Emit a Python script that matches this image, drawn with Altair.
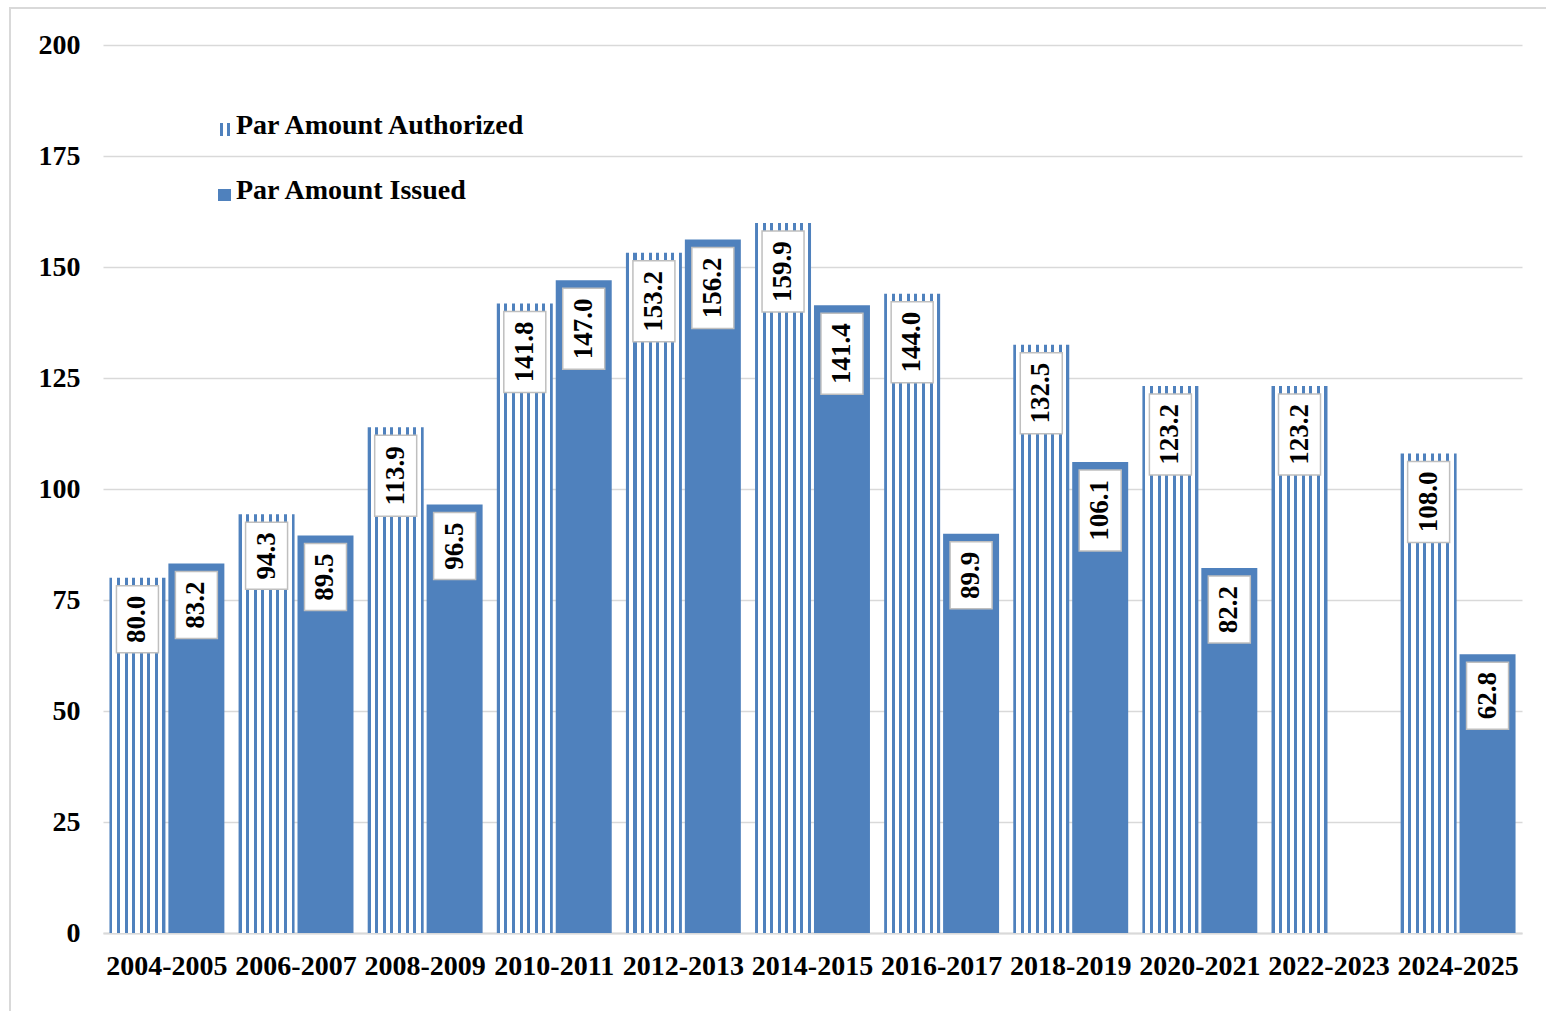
import altair as alt
import pandas as pd

periods = ["2004-2005", "2006-2007", "2008-2009", "2010-2011", "2012-2013", "2014-2015",
           "2016-2017", "2018-2019", "2020-2021", "2022-2023", "2024-2025"]
authorized = [80.0, 94.3, 113.9, 141.8, 153.2, 159.9, 144.0, 132.5, 123.2, 123.2, 108.0]
issued = [83.2, 89.5, 96.5, 147.0, 156.2, 141.4, 89.9, 106.1, 82.2, None, 62.8]
series_names = ["Par Amount Authorized", "Par Amount Issued"]
y_ticks = [0, 25, 50, 75, 100, 125, 150, 175, 200]

rows = []
for p, a, i in zip(periods, authorized, issued):
    rows.append({"period": p, "series": series_names[0], "value": a})
    if i is not None:
        rows.append({"period": p, "series": series_names[1], "value": i})
df = pd.DataFrame(rows)
legend_df = pd.DataFrame({"series": series_names})
frame_df = pd.DataFrame({"k": [0]})

BLUE = "#4F81BD"
FONT = "Liberation Serif"
GRID = "#D9D9D9"
FS = 28


def stripe_gradient(n, frac):
    p = 1.0 / (n + frac)
    stops = []
    for k in range(n + 1):
        a = k * p
        b = min(1.0, (k + frac) * p)
        stops.append(alt.GradientStop(color=BLUE, offset=a))
        stops.append(alt.GradientStop(color=BLUE, offset=b))
        if k < n:
            stops.append(alt.GradientStop(color="white", offset=b))
            stops.append(alt.GradientStop(color="white", offset=(k + 1) * p))
    return alt.LinearGradient(gradient="linear", stops=stops, x1=0, x2=1, y1=0, y2=0)


x_enc = alt.X(
    "period:N", sort=periods,
    scale=alt.Scale(domain=periods, paddingInner=0.11, paddingOuter=0.05),
    axis=alt.Axis(title=None, labelAngle=0, labelFont=FONT, labelFontSize=FS,
                  labelFontWeight="bold", labelColor="black", labelPadding=19,
                  ticks=False, domain=True, domainColor=GRID, domainWidth=2,
                  grid=False, labelOverlap=False, labelLimit=0),
)
xo_enc = alt.XOffset("series:N", scale=alt.Scale(domain=series_names, paddingInner=0.05))
y_enc = alt.Y(
    "value:Q", scale=alt.Scale(domain=[0, 200], nice=False),
    axis=alt.Axis(title=None, values=y_ticks, domain=False, ticks=False, grid=True,
                  gridColor=GRID, gridWidth=1.5, labelFont=FONT, labelFontSize=FS,
                  labelFontWeight="bold", labelColor="black", labelPadding=23),
)

base = (alt.Chart(df)
        .transform_calculate(label="format(datum.value, '.1f')")
        .transform_calculate(nchar="length(datum.label)"))

auth_bars = base.transform_filter(alt.datum.series == series_names[0]).mark_bar(
    fill=stripe_gradient(7, 0.4)).encode(x=x_enc, xOffset=xo_enc, y=y_enc)
issued_bars = base.transform_filter(alt.datum.series == series_names[1]).mark_bar(
    color=BLUE).encode(x=x_enc, xOffset=xo_enc, y=y_enc)


def label_layers(cond, box_h):
    sub = base.transform_filter(cond)
    box = sub.mark_bar(fill="white", stroke="#BFBFBF", strokeWidth=1.5, width=42,
                       yOffset=8, y2Offset=8 + box_h).encode(
        x=x_enc, xOffset=xo_enc, y=y_enc, y2=alt.Y2("value"))
    txt = sub.mark_text(angle=270, font=FONT, fontSize=27, fontWeight="bold", color="black",
                        align="center", baseline="middle",
                        yOffset=8 + box_h / 2).encode(
        x=x_enc, xOffset=xo_enc, y=y_enc, text="label:N")
    return [box, txt]


labels4 = label_layers("datum.nchar <= 4", 67)
labels5 = label_layers("datum.nchar > 4", 81)

frame = alt.Chart(frame_df).mark_rect(fill="transparent", stroke=GRID, strokeWidth=2).encode(
    x=alt.value(-93), x2=alt.value(1480), y=alt.value(-37), y2=alt.value(1000))

leg_sym1 = alt.Chart(legend_df).transform_filter(alt.datum.series == series_names[0]).mark_rect(
    fill=stripe_gradient(1, 0.4)).encode(
    x=alt.value(117), x2=alt.value(127), y=alt.value(78), y2=alt.value(91))
leg_sym2 = alt.Chart(legend_df).transform_filter(alt.datum.series == series_names[1]).mark_rect(
    fill=BLUE).encode(
    x=alt.value(115), x2=alt.value(128), y=alt.value(144), y2=alt.value(156))
leg_txt1 = alt.Chart(legend_df).transform_filter(alt.datum.series == series_names[0]).mark_text(
    align="left", baseline="alphabetic", font=FONT, fontSize=FS, fontWeight="bold",
    color="black").encode(x=alt.value(133), y=alt.value(89), text="series:N")
leg_txt2 = alt.Chart(legend_df).transform_filter(alt.datum.series == series_names[1]).mark_text(
    align="left", baseline="alphabetic", font=FONT, fontSize=FS, fontWeight="bold",
    color="black").encode(x=alt.value(133), y=alt.value(154), text="series:N")

chart = alt.layer(
    frame, auth_bars, issued_bars, *labels4, *labels5,
    leg_sym1, leg_sym2, leg_txt1, leg_txt2,
).properties(
    width=1419, height=888,
    background="white",
    autosize=alt.AutoSizeParams(type="none"),
    padding={"left": 103, "top": 45, "right": 24, "bottom": 78},
).configure_view(stroke="transparent", strokeWidth=0)

chart.save("out.html", embed_options={"renderer": "svg", "actions": False})
